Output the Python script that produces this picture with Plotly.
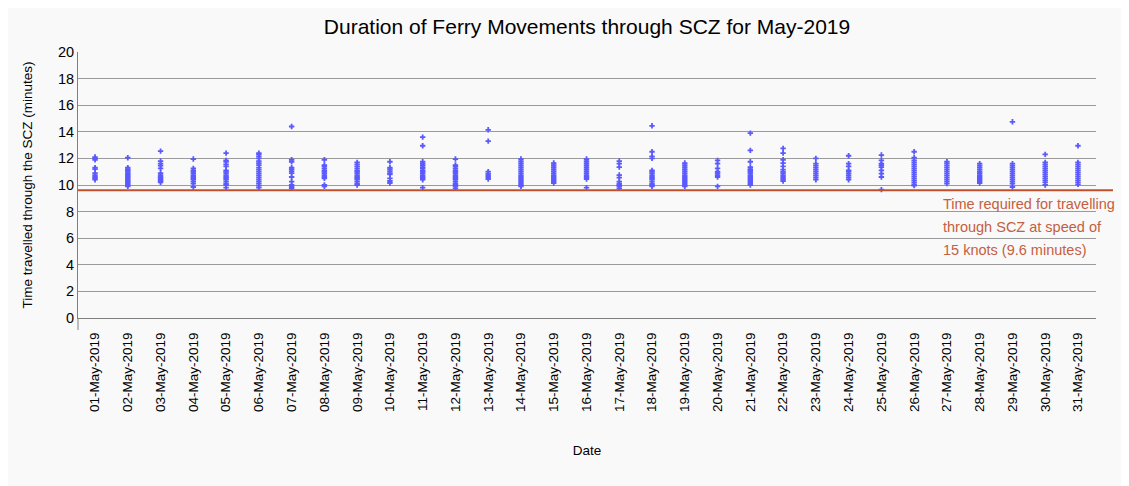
import plotly.graph_objects as go

dates = [f"{d:02d}-May-2019" for d in range(1, 32)]

minutes_by_day = [
    [12.1, 12.0, 11.9, 11.3, 11.2, 10.9, 10.75, 10.6, 10.5, 10.4],
    [12.05, 11.3, 11.2, 11.1, 11.0, 10.9, 10.8, 10.7, 10.6, 10.5, 10.4, 10.3, 10.2, 10.1, 10.0, 9.9],
    [12.55, 11.8, 11.6, 11.45, 11.25, 10.9, 10.75, 10.6, 10.5, 10.4, 10.3, 10.2],
    [11.95, 11.25, 11.1, 11.0, 10.9, 10.75, 10.6, 10.5, 10.4, 10.25, 10.1, 9.85],
    [12.4, 11.85, 11.75, 11.55, 11.4, 11.1, 11.0, 10.9, 10.75, 10.6, 10.5, 10.4, 10.25, 10.1, 10.0, 9.8],
    [12.4, 12.3, 12.15, 12.0, 11.8, 11.65, 11.5, 11.3, 11.15, 11.0, 10.85, 10.7, 10.55, 10.4, 10.25, 10.1, 9.95, 9.8],
    [14.4, 11.9, 11.75, 11.3, 11.2, 11.05, 10.9, 10.6, 10.25, 10.0, 9.85, 9.75],
    [11.9, 11.5, 11.4, 11.25, 11.1, 11.0, 10.9, 10.75, 10.6, 10.5, 10.0, 9.9],
    [11.7, 11.55, 11.4, 11.25, 11.1, 11.0, 10.9, 10.75, 10.6, 10.5, 10.4, 10.25, 10.1, 10.0],
    [11.75, 11.3, 11.2, 11.05, 10.9, 10.8, 10.5, 10.3, 10.15],
    [13.6, 12.95, 11.75, 11.6, 11.5, 11.35, 11.25, 11.1, 11.0, 10.9, 10.75, 10.6, 10.5, 10.4, 9.8],
    [11.95, 11.5, 11.4, 11.25, 11.1, 11.0, 10.9, 10.75, 10.6, 10.5, 10.4, 10.25, 10.1, 10.0, 9.9, 9.75],
    [14.15, 13.3, 11.0, 10.85, 10.75, 10.6, 10.45],
    [11.95, 11.8, 11.65, 11.5, 11.35, 11.2, 11.05, 10.9, 10.75, 10.6, 10.45, 10.3, 10.15, 10.0, 9.9],
    [11.65, 11.5, 11.35, 11.2, 11.05, 10.9, 10.75, 10.6, 10.45, 10.3, 10.15],
    [11.95, 11.8, 11.65, 11.5, 11.35, 11.2, 11.05, 10.9, 10.75, 10.6, 10.45, 9.8],
    [11.8, 11.6, 11.35, 10.75, 10.55, 10.25, 10.1, 10.0, 9.9, 9.75],
    [14.45, 12.5, 12.15, 12.0, 11.1, 11.0, 10.9, 10.75, 10.6, 10.5, 10.4, 10.25, 10.1, 10.0, 9.9],
    [11.65, 11.5, 11.35, 11.2, 11.05, 10.9, 10.75, 10.6, 10.45, 10.3, 10.15, 10.0, 9.9],
    [11.85, 11.6, 11.25, 11.0, 10.9, 10.75, 10.6, 9.9],
    [13.9, 12.6, 11.75, 11.35, 11.2, 11.1, 11.0, 10.9, 10.75, 10.6, 10.45, 10.3, 10.15, 10.0],
    [12.75, 12.4, 11.9, 11.65, 11.4, 11.15, 11.0, 10.9, 10.75, 10.6, 10.45, 10.3],
    [12.0, 11.6, 11.45, 11.3, 11.15, 11.0, 10.85, 10.7, 10.55, 10.4],
    [12.2, 11.6, 11.4, 11.1, 11.0, 10.85, 10.7, 10.55, 10.4],
    [12.25, 11.85, 11.6, 11.5, 11.35, 11.1, 10.85, 10.6, 9.65],
    [12.5, 12.05, 11.85, 11.7, 11.55, 11.4, 11.25, 11.1, 10.95, 10.8, 10.65, 10.5, 10.35, 10.2, 10.05, 9.95],
    [11.75, 11.6, 11.45, 11.3, 11.15, 11.0, 10.85, 10.7, 10.55, 10.4, 10.25, 10.1],
    [11.6, 11.45, 11.3, 11.15, 11.0, 10.9, 10.75, 10.6, 10.45, 10.3, 10.15],
    [14.75, 11.6, 11.45, 11.3, 11.15, 11.0, 10.85, 10.7, 10.55, 10.4, 10.25, 10.1, 9.85],
    [12.3, 11.7, 11.55, 11.4, 11.25, 11.1, 10.95, 10.8, 10.65, 10.5, 10.35, 10.2, 10.0],
    [12.95, 11.7, 11.55, 11.4, 11.25, 11.1, 10.95, 10.8, 10.65, 10.5, 10.35, 10.2, 10.05],
]

threshold_minutes = 9.6
threshold_label = ["Time required for travelling", "through SCZ at speed of", "15 knots (9.6 minutes)"]
y_ticks = list(range(0, 21, 2))

point_x = []
point_y = []
for d, vals in zip(dates, minutes_by_day):
    for v in vals:
        point_x.append(d)
        point_y.append(v)

FONT = "Liberation Sans, Arial, sans-serif"
OFF = 8  # page body margin
W, H = 1129 - OFF, 486 - OFF
# plot area in page coords: x 78..1096, y 52..318
L = 78 - OFF
R = W - (1096 - OFF)
T = 52 - OFF
B = H - (318 - OFF)
pw, ph = W - L - R, H - T - B


def px_x(p):
    """page x -> paper fraction"""
    return (p - OFF - L) / pw


def px_y(p):
    """page y -> paper fraction"""
    return (H - B - (p - OFF)) / ph


fig = go.Figure()
fig.add_trace(go.Scatter(
    x=point_x, y=point_y, mode="markers",
    marker=dict(symbol="cross", size=4.5, color="#5a5aff", line=dict(width=0)),
    showlegend=False, hoverinfo="x+y",
))

# threshold line
fig.add_shape(type="line", xref="paper", yref="y",
              x0=0, x1=px_x(1113), y0=threshold_minutes, y1=threshold_minutes,
              line=dict(color="#c0502d", width=2), layer="above")

# y axis line extension below zero
fig.add_shape(type="line", xref="paper", yref="paper",
              x0=0, x1=0, y0=0, y1=px_y(330),
              line=dict(color="#808080", width=1), layer="above")

for i, line in enumerate(threshold_label):
    fig.add_annotation(
        xref="paper", yref="paper", x=px_x(941), y=px_y(204 + i * 23),
        text=line, showarrow=False, xanchor="left", yanchor="middle",
        font=dict(family=FONT, size=14.5, color="#c4603f"),
    )

fig.update_layout(
    width=W, height=H,
    margin=dict(l=L, r=R, t=T, b=B, autoexpand=False),
    paper_bgcolor="#f9f9f9",
    plot_bgcolor="#f9f9f9",
    font=dict(family=FONT, color="black"),
    title=dict(text="Duration of Ferry Movements through SCZ for May-2019",
               x=0.5, xanchor="center", xref="paper",
               y=1 - (27 - OFF) / H, yanchor="middle",
               font=dict(family=FONT, size=21, color="black")),
    xaxis=dict(
        type="category", categoryorder="array", categoryarray=dates,
        range=[-0.52, 30.55], tickangle=-90,
        tickfont=dict(family=FONT, size=13.5, color="black"),
        ticklabelstandoff=8,
        showgrid=False, showline=True, linecolor="#808080", linewidth=1,
        ticks="", zeroline=False, automargin=False,
        title=dict(text="Date", standoff=34,
                   font=dict(family=FONT, size=13.5, color="black")),
    ),
    yaxis=dict(
        range=[0, 20], tickvals=y_ticks, ticktext=[str(v) for v in y_ticks],
        tickfont=dict(family=FONT, size=14.5, color="black"),
        showgrid=True, gridcolor="#9a9a9a", gridwidth=1,
        showline=True, linecolor="#808080", linewidth=1,
        zeroline=False, ticks="", automargin=False,
        title=dict(text="Time travelled through the SCZ (minutes)", standoff=22,
                   font=dict(family=FONT, size=13.5, color="black")),
    ),
)

fig.write_html("out.html")
